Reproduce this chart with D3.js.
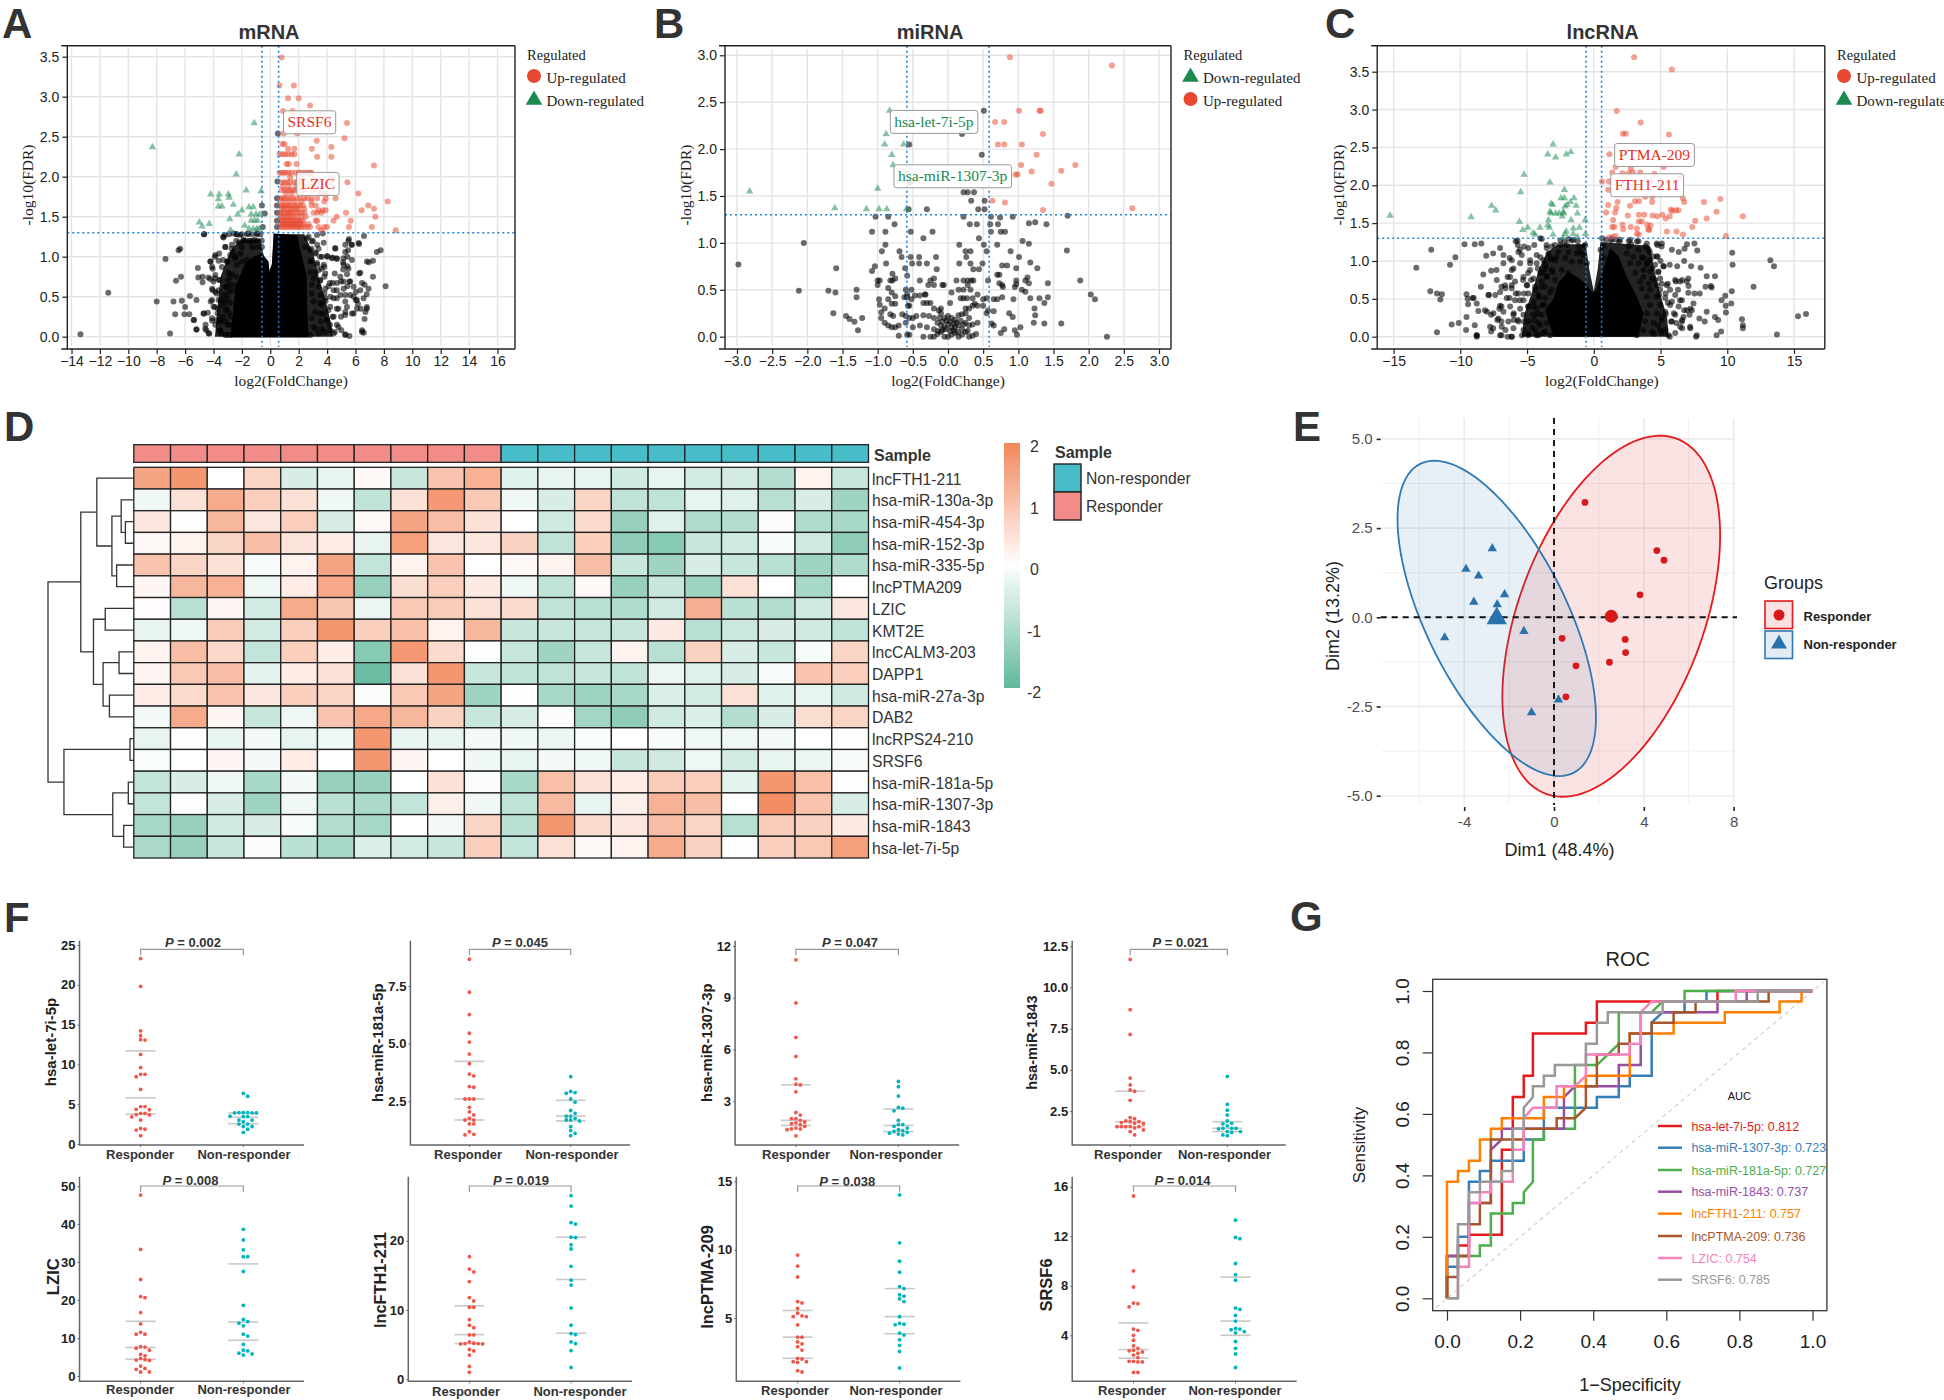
<!DOCTYPE html>
<html><head><meta charset="utf-8">
<script src="https://cdn.jsdelivr.net/npm/d3@7"></script>
<style>html,body{margin:0;background:#fff}svg{display:block}</style>
</head><body><svg id="c" width="1944" height="1400" font-family='"Liberation Sans",Arial,sans-serif'></svg>
<script>
/* ---------- A: mRNA volcano ---------- */
const upRowsA=[[3.49,[.8]],[3.14,[.65,1.66]],[2.98,[1.25,2]],[2.89,[2.8]],[2.82,[.9,1.57]],[2.67,[5.4]],[2.54,[.92,1.9]],[2.48,[5.22]],[2.45,[3.27]],[2.41,[.85,1]],[2.37,[4.3]],[2.35,[1.25,1.7,2.93]],[2.28,[.65,.85,1.05,1.25,1.5,1.7]],[2.25,[3.3,4.3]],[2.16,[1.15,1.3,1.85]],[2.14,[7.3]],[2.05,[.65,.8,.95,1.1,1.3,1.5,1.8,2,2.2,2.4,2.6,2.8,2.9]],[1.99,[1.4,2.1,3,4.3]],[1.93,[.8,1,1.2,1.4,1.7,1.9,2.1,2.8,3.5,4.2,5.43]],[1.88,[.9,1.3,1.8,2.4]],[1.83,[.8,1,1.2,1.4,1.6,1.8,2,2.3,3,3.5]],[1.79,[3.6,3.9,6.2,1.1,1.5]],[1.73,[.7,.85,1,1.2,1.4,1.6,1.85,2.1,2.4,2.6,2.9,3.3,3.9,4.6]],[1.69,[2.9,8.27,3.8,.9,1.3,1.7,2.2]],[1.64,[.7,.85,1,1.15,1.3,1.5,1.7,1.9,2.1,2.3,2.9,3.2,6.9]],[1.6,[.8,.95,1.2,1.4,1.6,1.8,2,2.4,7.3]],[1.58,[3.4,3.7,6.43,3.9]],[1.55,[.65,.8,1,1.15,1.3,1.45,1.6,1.8,2,2.2,2.4,3.05,3.3,3.6,5.33]],[1.5,[.75,.9,1.1,1.25,1.45,1.65,1.9,2.2,2.5,4.68,7.4]],[1.45,[.65,.8,.95,1.1,1.25,1.4,1.55,1.7,1.85,2,2.15,2.3,3.2,3.3,4.45,5.66]],[1.41,[.75,.9,1.05,1.2,1.35,1.5,1.65,1.8,1.95,2.1,2.35,2.7]],[1.37,[.7,.85,1,1.15,1.3,1.45,1.6,1.75,1.9,2.05,2.2,2.4,2.6,2.8,3.4,3.8,4,5.54,7.15]],[1.33,[8.83,3.6]]];
const downA=[[-1.13,2.67],[-8.3,2.37],[-2.2,2.28],[-2.4,2.03],[-1.7,1.83],[-.65,1.82],[-4.2,1.78],[-3.6,1.78],[-2.95,1.78],[-3.65,1.72],[-2.9,1.74],[-2.6,1.65],[-1.5,1.62],[-1.2,1.62],[-3.65,1.63],[-3.4,1.63],[-2,1.58],[-2.3,1.53],[-1.35,1.53],[-1,1.53],[-.75,1.53],[-2.85,1.47],[-1.35,1.45],[-1.1,1.45],[-.9,1.45],[-5,1.43],[-4.3,1.41],[-4.8,1.38],[-1.8,1.39],[-1.5,1.35],[-1.2,1.35],[-.95,1.35],[-.8,1.35],[-2.8,1.33]];
const nsA=[[.53,2.54],[.5,1.94],[-.59,1.64],[-.39,1.54],[-.53,1.37],[.47,1.73],[.47,1.64],[.47,1.55],[.47,1.45],[.47,1.37],[-13.37,.03],[-11.41,.55],[-8,.44],[-7.06,.04],[-6.82,.44],[-6.7,.28],[-6.23,.45],[-6,.37],[-6.05,.28],[-5.7,.28],[-5.66,.51],[-5.2,.46],[-5.37,.21],[-5.2,.09],[-4.68,.29],[-4.56,.15],[-4.5,.08],[-4.3,.04],[-4.2,.44],[-3.6,.08],[-3.47,.04],[-3.02,.02],[-7.38,.97],[-6.34,1.1],[-6.46,1.08],[-6.64,.7],[-6.29,.75],[-5.1,.86],[-5.07,.74],[-4.77,.75],[-4.77,.68],[-4.68,1.28],[-3.9,1],[-4.2,.94],[-4.06,.85],[-4.36,.74],[-3.9,.73],[-3.6,.71],[-4.06,.58],[-3.77,.54],[-3.32,1.25],[-3.17,1.12],[-2.73,1.1],[-3.32,.96],[-3.02,.94],[-3.6,1.04],[-3.41,.87],[-3.17,.62],[-3.47,.46],[-3.9,.37],[-3.32,.25],[-3.77,.21],[-2.58,1.29],[-2.13,1.27],[-1.54,1.29],[-.95,1.29],[-3.2,1.27],[-2.9,1.28],[-2.4,1.2],[-2.2,1.18],[-1.9,1.2],[-1.4,1.2],[-1.1,1.21],[-2.65,1.05],[-2.5,.98],[-2.95,.8],[-2.7,.78],[-3,.7],[-2.75,.65],[-2.95,.55],[-3.2,.43],[-3.05,.35],[-3,.15],[-3.7,.35],[-3.55,.18],[-4.1,.2],[-4.4,.3],[-2.9,.3],[3.7,1.29],[6.6,1.26],[5.54,1.22],[6.25,1.16],[5.72,1.15],[5.48,1.08],[5.28,1.06],[7.5,1.06],[7.77,1.08],[4.57,1.11],[4.03,1],[5.43,1],[4.39,.99],[4.68,.98],[7.23,.95],[6.94,.93],[5.13,.93],[5.43,.88],[5.13,.84],[7.23,.75],[6.26,.79],[8.12,.63],[5.57,.69],[4.54,.79],[3.8,.75],[3.8,.87],[4.39,.67],[4.98,.69],[5.43,.63],[6.46,.67],[6.64,.65],[6.02,.56],[6.79,.53],[4.1,.63],[4.68,.58],[5.28,.52],[5.87,.5],[4.68,.48],[4.24,.5],[3.8,.54],[5.28,.44],[6.02,.46],[6.17,.41],[6.37,.35],[6.79,.35],[6.7,.31],[6.64,.22],[4.68,.35],[5.28,.31],[5.87,.29],[4.09,.33],[4.39,.25],[4.98,.25],[6.46,.08],[6.58,.05],[5.28,.03],[5.57,.01],[4.54,.06],[3.8,.06],[3.2,.1],[3.94,.21],[3.5,.29],[2.7,1.25],[3,1.2],[3.3,1.15],[2.9,1.1],[3.2,1.05],[3.5,1],[2.9,.95],[3.3,.9],[3.6,.85],[3.2,.8],[3.5,.7],[3.9,.45],[3.6,.4],[4.2,.15],[4.8,.12],[5,.08]];
const nsA2=[[-4.65,1.28],[-3.29,1.24],[-2.39,1.28],[-2.35,1.28],[-2,1.28],[-1.64,1.28],[-1.29,1.28],[-.94,1.28],[-.7,1.28],[-1.88,1.21],[-1.76,1.2],[-1.5,1.2],[-1.2,1.2],[-.9,1.2],[-.6,1.2],[-2,1.12],[-1.29,1.12],[-.94,1.12],[-.59,1.12],[-3.17,1.12],[-2.7,1.15],[-2.11,1.04],[-2.46,1],[-2.82,1.02],[-3.87,1.02],[-3.05,.94],[-3.64,.95],[-4.23,.94],[-4.1,.875],[-2.35,.9],[-2,.94],[-1.64,.96],[-3.87,.77],[-3.57,.71],[-4.23,.72],[-2.86,.74],[-2.39,.75],[-4,.69],[-4.1,.6],[-3.05,.625],[-2.7,.58],[-3.64,.58],[-3.87,.56],[-2.35,.65],[-3.29,.52],[-4.1,.46],[-3.64,.46],[-3.05,.48],[-4,.375],[-3.4,.4],[-2.8,.42],[-3.71,.29],[-3.17,.33],[-2.82,.25],[-4.1,.23],[-3.52,.21],[-3.87,.15],[-3.17,.19],[-2.82,.15],[-4.34,.04],[-3.17,.02],[-2.82,.02],[-3.52,.08],[-2.46,.125],[-4.58,.1],[-4.7,.29],[-5.4,.21],[-5.2,.09],[3.29,1.27],[2.58,1.23],[2.93,1.19],[3.76,1.175],[5.5,1.2],[5.28,1.15],[5.75,1.15],[6.22,1.17],[4.58,1.1],[2.46,1.12],[2.82,1.08],[3.4,1.1],[3.17,1.04],[3.64,1],[3.99,1.01],[4.34,.98],[4.69,.97],[5.16,.98],[5.75,.96],[6.8,.94],[2.82,.94],[3.29,.92],[3.76,.9],[5.16,.9],[5.5,.85],[2.82,.81],[3.4,.83],[3.87,.79],[5.4,.78],[6.34,.8],[3.05,.73],[3.52,.71],[4.93,.75],[5.16,.69],[5.63,.69],[4.2,.67],[4.69,.67],[2.93,.65],[3.4,.625],[3.87,.6],[4.46,.58],[5.16,.6],[5.87,.625],[6.34,.58],[6.92,.6],[2.93,.54],[3.52,.52],[4.93,.52],[5.63,.52],[4.46,.48],[3.87,.48],[6.1,.46],[6.57,.48],[3.05,.44],[3.52,.42],[4.22,.375],[4.8,.35],[5.4,.37],[6.1,.35],[6.8,.37],[3.17,.31],[3.76,.29],[4.46,.25],[5.28,.27],[5.75,.29],[2.93,.23],[3.52,.19],[3.99,.21],[4.69,.15],[3.05,.125],[3.64,.1],[4.22,.08],[2.82,.02],[3.4,.04],[4.46,.04],[5.28,.02],[6.46,.06]];
const coreA=[[-2.82,-.01],[-2.58,.375],[-2.46,.625],[-2.11,.77],[-1.76,.92],[-1.17,1],[-.59,1.04],[-.12,.94],[-.05,.79],[.12,.92],[.23,1.29],[1.88,1.27],[2.23,1],[2.58,.75],[2.58,.42],[2.7,-.01]];
const haloA=[[-3.9,0],[-3.7,.4],[-3.5,.75],[-3.1,.95],[-2.7,1.1],[-2.2,1.2],[-.7,1.22],[-.45,1],[-.15,.8],[.12,.9],[.25,1.28],[2.4,1.28],[3,1.05],[3.4,.75],[3.9,.45],[4.3,.15],[4.4,0]];
const xTicksA=[-14,-12,-10,-8,-6,-4,-2,0,2,4,6,8,10,12,14,16], yTicksA=[0,.5,1,1.5,2,2.5,3,3.5];

/* ---------- B: miRNA volcano ---------- */
const upB=[[.88,2.98],[2.33,2.89],[1.01,2.41],[1.3,2.41],[1.32,2.41],[.67,2.29],[.8,2.29],[1.35,2.16],[.71,2.05],[.8,2.05],[1.05,2.05],[1.26,1.94],[1.04,1.83],[1.81,1.83],[1.19,1.76],[1.61,1.77],[.79,1.73],[.96,1.73],[.99,1.73],[1.47,1.63],[.63,1.45],[.81,1.43],[1.35,1.35],[2.62,1.37]];
const downB=[[-.83,2.41],[-.88,2.16],[-.9,2.05],[-.63,2.05],[-.8,1.94],[-.78,1.83],[-1,1.58],[-2.82,1.55],[-1.61,1.37],[-1.16,1.36],[-.98,1.36],[-.87,1.36],[-.59,1.36]];
const nsB=[[.51,2.41],[.2,2.16],[-.55,2.05],[.48,1.94],[.49,1.73],[-.54,1.64],[.22,1.54],[.28,1.54],[.37,1.54],[.33,1.45],[.52,1.45],[-.56,1.36],[-.3,1.36],[.43,1.36],[.52,1.36],[-1.03,1.28],[-.85,1.28],[.22,1.28],[.61,1.28],[.74,1.27],[.92,1.28],[1.7,1.29],[-.76,1.2],[.31,1.2],[.41,1.2],[.6,1.2],[.71,1.2],[1.15,1.21],[1.24,1.22],[1.4,1.2],[-1.08,1.12],[-.89,1.12],[-.53,1.12],[-.22,1.12],[.61,1.12],[.75,1.12],[.81,1.12],[-.35,1.05],[.44,1.05],[-2.05,1],[-.89,.98],[.16,.98],[.51,.98],[.7,.98],[1.06,1.02],[1.15,.99],[1.69,.92],[-.94,.91],[-.69,.91],[.25,.91],[.32,.91],[.55,.91],[.89,.91],[-.66,.85],[-.53,.85],[-.41,.85],[-.17,.85],[.26,.85],[1.01,.85],[-2.98,.77],[-.88,.78],[-.51,.78],[-.41,.78],[-.3,.78],[.16,.78],[.32,.78],[.49,.78],[.77,.76],[.84,.76],[1.17,.79],[-1.59,.73],[-1.04,.75],[-.61,.73],[-.16,.72],[-1.08,.7],[.36,.72],[.44,.72],[.97,.73],[1.27,.73],[-.79,.67],[.7,.66],[.73,.66],[-1,.6],[-.97,.6],[-.82,.6],[-.79,.6],[-.75,.62],[-.58,.65],[-.4,.6],[-.25,.6],[-.2,.62],[.12,.6],[.22,.6],[.28,.6],[.33,.6],[.36,.6],[.57,.6],[.97,.6],[1.13,.63],[1.1,.6],[1.88,.6],[-1.3,.5],[-1.6,.47],[-1.7,.49],[-2.12,.49],[-1.3,.42],[-1,.55],[-.85,.52],[-.8,.47],[-.6,.5],[-.58,.45],[-.52,.5],[-.32,.45],[-.28,.55],[-.2,.55],[-.08,.55],[-.06,.55],[.05,.47],[.15,.5],[.22,.5],[.28,.55],[.32,.5],[.42,.45],[.73,.57],[.77,.55],[.78,.53],[.95,.53],[.97,.56],[1.05,.5],[1.1,.48],[1.15,.57],[1.42,.57],[-.98,.4],[-.85,.4],[-.75,.43],[-.62,.42],[-.58,.42],[-.52,.4],[-.47,.44],[-.4,.44],[-.33,.45],[.18,.41],[.22,.41],[.27,.41],[.35,.41],[.5,.4],[.55,.41],[.65,.4],[.7,.4],[.77,.42],[.93,.4],[1.17,.41],[1.3,.41],[1.42,.42],[1.37,.36],[2.03,.45],[2.09,.4],[-.97,.34],[-.9,.3],[-.8,.35],[-.75,.35],[-.57,.33],[-.55,.33],[-.35,.36],[-.3,.36],[-.25,.36],[-.2,.3],[-.1,.3],[.03,.36],[.25,.3],[.3,.3],[.35,.33],[.38,.35],[.42,.33],[.5,.33],[.57,.28],[.65,.27],[1.23,.3],[-1.63,.25],[-1.45,.22],[-1.4,.19],[-1.33,.16],[-1.22,.2],[-.95,.26],[-.95,.2],[-.82,.24],[-.78,.22],[-.65,.24],[-.6,.22],[-.55,.2],[-.5,.2],[-.45,.22],[-.35,.23],[-.27,.22],[-.2,.2],[-.13,.28],[-.1,.25],[-.05,.2],[0,.22],[.05,.2],[.1,.18],[.15,.23],[.2,.24],[.25,.25],[.3,.2],[.55,.25],[.87,.25],[.92,.21],[1.24,.23],[-1.28,.07],[-.9,.15],[-.85,.12],[-.8,.1],[-.75,.1],[-.7,.12],[-.6,.15],[-.5,.1],[-.4,.12],[-.3,.1],[-.2,.08],[-.15,.15],[-.1,.12],[-.05,.1],[0,.13],[.05,.1],[.1,.1],[.15,.12],[.2,.08],[.25,.15],[.3,.12],[.35,.13],[.42,.15],[.62,.14],[.65,.12],[.8,.08],[.95,.07],[1.03,.1],[1.22,.15],[1.37,.14],[1.61,.14],[-.7,.01],[-.58,.02],[-.55,.02],[-.35,0],[-.25,0],[-.2,0],[-.15,.03],[-.1,.05],[-.05,0],[0,0],[.05,.02],[.1,.04],[.15,0],[.2,.02],[.25,.05],[.3,0],[.35,.01],[.4,.03],[.75,.04],[.98,.02],[2.26,0],[-.12,.2],[-.08,.16],[-.02,.17],[.03,.16],[.08,.14],[.12,.15],[.18,.17],[-.14,.06],[-.08,.07],[-.03,.08],[.03,.06],[.08,.07],[.14,.05],[.22,.13],[.28,.06]];
const xTicksB=[-3,-2.5,-2,-1.5,-1,-.5,0,.5,1,1.5,2,2.5,3], yTicksB=[0,.5,1,1.5,2,2.5,3];

/* ---------- C: lncRNA volcano ---------- */
const upC=[[3.02,3.69],[5.85,3.53],[1.72,2.98],[3.51,2.83],[2.18,2.68],[2.4,2.68],[5.63,2.67],[1.17,2.41],[1.63,2.24],[2.77,2.22],[5.23,2.24],[1.38,2.17],[2.15,2.16],[2.6,2.16],[2.92,2.17],[3.48,2.17],[4.55,2.15],[.62,2.05],[1.14,2.05],[4.3,2.05],[6.15,2.05],[6.46,2.09],[1.08,1.94],[2.46,1.94],[3.85,1.85],[4.37,1.85],[3.08,1.79],[3.38,1.79],[4.37,1.78],[1.78,1.78],[6.68,1.83],[6.77,1.78],[8.25,1.78],[9.48,1.82],[1.08,1.74],[2.71,1.73],[1.69,1.7],[5.78,1.68],[6.15,1.67],[6.34,1.67],[5.88,1.66],[9.2,1.65],[.92,1.64],[1.6,1.64],[3.38,1.61],[3.78,1.61],[2.55,1.6],[4.4,1.6],[4.74,1.59],[5.14,1.61],[5.69,1.59],[5.38,1.56],[11.17,1.59],[8.46,1.56],[7.6,1.53],[1.45,1.54],[3.38,1.52],[3.6,1.52],[2.15,1.48],[2.77,1.45],[1.38,1.45],[1.54,1.45],[4,1.48],[4.25,1.47],[7.38,1.45],[3.23,1.43],[2.2,1.42],[4.09,1.42],[4.15,1.41],[5.48,1.39],[6.2,1.39],[3.23,1.36],[3.38,1.35],[6.68,1.35],[9.9,1.33],[1.38,1.32],[1.63,1.33],[1.14,1.31]];
const downC=[[-15.26,1.6],[-9.2,1.58],[-7.66,1.73],[-7.35,1.67],[-3.05,2.54],[-3.45,2.41],[-2.86,2.37],[-2.06,2.41],[-1.72,2.44],[-5.23,2.14],[-3.29,2.04],[-5.48,1.91],[-2.2,1.94],[-2.46,1.83],[-2.2,1.83],[-1.48,1.83],[-3.2,1.76],[-3.08,1.74],[-2,1.74],[-1.75,1.78],[-1.32,1.73],[-3.29,1.65],[-3.2,1.63],[-2.86,1.63],[-2.6,1.63],[-2.3,1.65],[-2.15,1.72],[-2.25,1.63],[-1.23,1.63],[-2.37,1.59],[-3.4,1.54],[-5.57,1.52],[-1.7,1.54],[-.65,1.54],[-1.08,1.44],[-1.54,1.43],[-5.32,1.41],[-4.95,1.44],[-4.03,1.44],[-4.55,1.37],[-4.4,1.35],[-3.45,1.47],[-3.32,1.44],[-3.05,1.35],[-2.06,1.39],[-2.15,1.36],[-1.54,1.36],[-.62,1.36],[-2.3,1.31],[-1.23,1.32]];
const nsC=[[-13.3,.91],[-12.18,1.15],[-12.25,.6],[-11.75,.57],[-11.38,.56],[-11.5,.49],[-11.75,.06],[-10.77,.95],[-10.37,1.05],[-9.69,1.22],[-8.92,1.22],[-8.43,1.23],[-10.65,.16],[-10.12,.18],[-9.54,.56],[-9.45,.5],[-9.08,.51],[-9.42,.43],[-8.77,.44],[-9.54,.26],[-9.57,.09],[-8.92,.15],[-8.77,.02],[-8.77,0],[-8.65,.34],[-8.28,.82],[-8.06,1.07],[-7.69,.87],[-7.54,1.1],[-7.29,.88],[-7.02,1.17],[-6.77,1.08],[-6.77,.97],[-8.46,.66],[-7.85,.55],[-7.38,.55],[-6.92,.66],[-6.31,1.04],[-6.15,1.01],[-6.46,.79],[-6.15,.88],[-6.62,.64],[-6.15,.68],[-5.85,1.26],[-5.69,1.21],[-5.54,1.15],[-5.23,1.19],[-6.92,.4],[-7.08,.37],[-8,.33],[-7.69,.29],[-7.23,.22],[-6.92,.2],[-7.54,.11],[-7.69,.07],[-6.92,.02],[-6.46,0],[-6.15,0],[-6.62,.09],[-6,.31],[-6,.22],[-5.69,.22],[-5.54,.48],[-5.23,.57],[-4.92,.4],[-6.31,.51],[-5.85,.57],[-5.38,.02],[-4.92,.04],[-5.23,.2],[-4.46,.22],[-4.92,.84],[-4.77,.97],[-4.46,1.21],[-4,1.3],[-3.54,1.21],[-2.92,1.21],[-5.3,.75],[-5,.68],[-4.7,.75],[-4.4,.62],[-4.2,.9],[-4,1.05],[-3.8,.85],[-3.6,.95],[-3.4,1.1],[-3.2,1.02],[-4.5,.4],[-4.2,.3],[-4.1,.52],[-3.9,.66],[-3.7,.42],[-3.5,.8],[-3.3,.58],[-4.6,.12],[-4.3,.02],[-4,.15],[-3.8,.05],[-3.1,.85],[-2.8,1.05],[-2.5,1.27],[-2.2,1.25],[-1.9,1.29],[-1.2,1.26],[-1,1.12],[-.7,1.2],[-1.65,1.27],[15.9,.3],[15.3,.27],[13.72,.03],[13.23,1.01],[13.5,.93],[11.97,.66],[11.1,.23],[11.17,.15],[11.17,.11],[10.37,1.11],[10.4,.95],[10.34,.6],[9.85,.54],[9.57,.48],[10.3,.44],[9.88,.41],[9.9,.32],[9.08,.26],[9.32,.22],[9.54,.07],[9.2,.02],[9.08,.8],[8.46,.8],[8.77,.67],[8.37,.66],[8.83,.65],[7.94,.57],[7.54,.57],[8.46,.33],[7.91,.24],[8.31,.2],[7.66,0],[7.54,1.23],[7.75,1.14],[6.98,1.22],[6.8,1.16],[6.37,1.12],[6.77,1],[6.25,.93],[7.29,.93],[8,.91],[5.69,.95],[5.85,1.15],[5.08,1.19],[4.77,1.21],[6.62,.75],[7.08,.77],[6.15,.73],[6.31,.62],[7.1,.67],[7.08,.58],[5.54,.7],[5.23,.93],[5.38,.57],[5.85,.46],[6.46,.48],[7.23,.37],[6.77,.35],[6,.31],[7.17,.29],[6.62,.22],[6.18,.18],[6.62,.11],[7.23,.11],[5.69,0],[5.38,.09],[5.08,.26],[4.77,1.06],[4.46,1.06],[3.85,1.19],[3.23,1.26],[2.62,1.26],[1.69,1.28],[.92,1.28],[.62,1.3],[4.2,1.12],[3.6,1.05],[4.4,.9],[4.8,.85],[4,.98],[5,1],[4.6,.75],[5.1,.7],[4.9,.55],[5.4,.3],[5.1,.05],[4.8,.15],[4.5,.04],[5.8,.2],[6.1,.05],[5.55,.45],[2.8,1.22],[1.3,1.27],[1.9,1.25],[.7,1.2],[.5,1.15],[.7,1.05]];
const nsC2=[[-5.72,1.27],[-3.9,1.29],[-5.65,1.12],[-4.9,1.17],[-5.4,1.08],[-4.28,1.08],[-3.53,1.17],[-3.15,1.19],[-2.52,1.21],[-2.03,1.21],[-1.52,1.28],[-1.15,1.19],[-.65,1.21],[-2.65,1.12],[-1.9,1.12],[-1.27,1.1],[-.77,1.08],[-3.77,1.01],[-3.27,1.04],[-2.9,1.01],[-2.15,1.04],[-1.65,.99],[-1.02,.99],[-4.77,1.01],[-4.28,.97],[-5.52,.97],[-6.02,.9],[-3.65,.9],[-3.15,.88],[-2.4,.88],[-1.9,.84],[-.52,.97],[-4.77,.88],[-4,.84],[-3.52,.79],[-2.9,.75],[-4.52,.77],[-5.27,.79],[-6.27,.79],[-5.9,.73],[-6.65,.68],[-3.9,.73],[-5.02,.68],[-4.4,.66],[-3.65,.66],[-3.15,.62],[-6.15,.64],[-7.27,.75],[-7.02,.59],[-5.65,.57],[-4.9,.57],[-4.15,.55],[-3.65,.51],[-7.9,.55],[-6.52,.51],[-5.9,.48],[-5.27,.48],[-4.52,.46],[-9,.51],[-7.02,.41],[-6.27,.4],[-5.52,.37],[-4.9,.4],[-4.27,.37],[-3.9,.42],[-8.15,.35],[-7.52,.31],[-6.77,.33],[-6.02,.29],[-5.27,.29],[-4.52,.29],[-3.9,.29],[-7.15,.24],[-6.4,.2],[-5.65,.2],[-4.9,.2],[-4.15,.18],[-3.52,.18],[-7.77,.13],[-6.9,.13],[-6.02,.11],[-5.27,.09],[-4.4,.09],[-3.65,.07],[-8.77,.02],[-7.02,.02],[-6.15,0],[-4.9,.02],[-4.15,.02],[-3.27,.02],[1.35,1.29],[1.97,1.28],[2.72,1.28],[3.35,1.26],[3.97,1.23],[4.72,1.23],[5.1,1.23],[2.6,1.19],[3.35,1.15],[4.1,1.15],[4.72,1.06],[2.47,1.1],[2.97,1.06],[3.72,1.04],[4.22,1.01],[2.72,.97],[3.35,.97],[3.97,.95],[4.6,.95],[3.72,.88],[4.22,.86],[4.85,.86],[5.22,.93],[3.1,.84],[3.72,.79],[4.35,.77],[4.97,.77],[3.47,.73],[4.1,.7],[4.72,.68],[5.47,.68],[6.1,.75],[3.6,.64],[4.22,.62],[4.97,.62],[5.72,.62],[6.47,.73],[6.97,.73],[3.97,.53],[4.72,.53],[5.35,.51],[6.1,.55],[6.6,.48],[4.22,.42],[4.97,.42],[5.72,.42],[6.35,.4],[6.97,.35],[7.47,.44],[3.97,.31],[4.72,.31],[5.35,.33],[6.1,.29],[6.72,.26],[7.35,.35],[3.85,.2],[4.47,.18],[5.1,.22],[5.85,.2],[6.6,.2],[3.72,.09],[4.35,.07],[4.97,.09],[5.6,.02],[6.47,.13],[7.22,.13],[7.72,.02],[3.22,.02]];
const coreC=[[-3.02,0],[-3.65,.35],[-3.02,.5],[-2.65,.72],[-1.9,.85],[-1.15,.78],[-.52,.68],[-.15,.59],[.1,.59],[.35,.7],[.85,.97],[1.22,1.17],[1.85,1.06],[2.47,.79],[3.22,.53],[3.72,.31],[3.35,0]];
const haloC=[[-5.4,0],[-5.2,.3],[-4.6,.6],[-4.1,.9],[-3.5,1.12],[-2.6,1.22],[-.6,1.22],[-.35,.9],[0,.6],[.3,.9],[.5,1.25],[4.2,1.2],[4.5,.9],[5,.55],[5.5,.25],[5.6,0]];
const xTicksC=[-15,-10,-5,0,5,10,15], yTicksC=[0,.5,1,1.5,2,2.5,3,3.5];

/* ---------- D: heatmap ---------- */
const heatRows=["lncFTH1-211","hsa-miR-130a-3p","hsa-miR-454-3p","hsa-miR-152-3p","hsa-miR-335-5p","lncPTMA209","LZIC","KMT2E","lncCALM3-203","DAPP1","hsa-miR-27a-3p","DAB2","lncRPS24-210","SRSF6","hsa-miR-181a-5p","hsa-miR-1307-3p","hsa-miR-1843","hsa-let-7i-5p"];
const heatSamples=["Responder","Responder","Responder","Responder","Responder","Responder","Responder","Responder","Responder","Responder","Non-responder","Non-responder","Non-responder","Non-responder","Non-responder","Non-responder","Non-responder","Non-responder","Non-responder","Non-responder"];
const heatValues=[
[1.5,1.75,0,.7,-.5,-.3,.1,-.7,1,1.3,-.4,-.3,-.3,-.6,-.3,-.55,-.55,-.95,.2,-.7],
[-.2,.5,1.4,.8,.5,-.2,-.8,.5,1.7,.9,-.2,-.5,.7,-.8,-.8,-.3,-.4,-.9,-.5,-1.2],
[.4,.02,1.2,.4,.8,-.5,.1,1.5,1.1,.5,0,-.6,.6,-1.3,-.4,-1,-.95,-.05,-1,-1.1],
[.1,.2,.7,1.1,.45,.3,-.3,1.6,.4,.4,.75,-.8,.8,-1.4,-1.5,-.7,-.6,-.1,-.6,-1.4],
[1,.7,.5,-.1,.2,1.5,-.75,.2,1,0,.1,.2,1.1,-.7,-1.2,-.5,-.7,-.9,-1.2,-1],
[.15,1.2,1.3,-.2,.3,1.45,-1.3,.55,.8,.35,-.2,-.8,.1,-1.3,-.7,-1.2,.5,0,-1.1,0],
[.05,-.85,.15,-.55,1.4,.95,-.25,.9,.85,.5,.6,-.8,-.9,-1,-.6,1.35,-.85,-.95,-.6,.4],
[-.3,-.2,.85,-.55,.8,1.75,.8,1.05,.2,1.2,-.7,-.7,-.7,-.7,.35,-.9,-.65,-.5,-.6,-.8],
[.2,1.1,.65,-.75,.8,.3,-1.5,1.7,.6,-.03,-.7,-1.2,-.7,.2,-.9,.75,-.5,-.7,-.1,.7],
[.15,.9,1.1,-.35,.3,.5,-1.85,.5,1.75,-.7,-.8,-.8,-.7,-.8,-.25,-.4,-.5,-.1,1,.8],
[.3,.6,1,.4,.8,.7,-.05,.9,1.5,-1.2,.03,-1.1,-1.2,-1.1,-.45,-.55,.5,-.4,-.3,-.6],
[-.15,1.4,.15,-.7,-.2,1,1.45,1.2,.75,-.7,-.5,-.05,-1.15,-1.4,-.6,-.45,-.95,-.5,.55,.7],
[-.3,.03,-.3,-.15,-.3,-.2,1.75,-.3,-.3,-.15,-.2,-.25,-.07,0,-.1,-.2,-.2,-.15,0,-.03],
[-.07,0,.15,-.15,.3,0,1.75,.15,0,-.2,-.3,-.15,-.2,-.7,-.6,-.2,-.55,-.3,-.25,-.1],
[-.75,-.5,-.2,-1.1,-.15,-1.3,-1.3,0,.5,-.05,-1.1,1.05,.5,.3,.85,.8,-.35,1.75,1.05,-.03],
[-.75,-.02,-.5,-1.2,-.2,-.85,-1.05,-.75,.25,-.2,-.8,1.15,-.3,.25,1.3,1.1,0,1.9,1,-.5],
[-1.1,-1.3,-.6,-.5,-.1,-.95,-1.1,0,-.15,.7,-.85,1.75,.6,.4,1.1,.7,-.9,.85,.75,.35],
[-1.05,-1.3,-.7,-.05,-.85,-1.1,-.45,-.55,-.7,.8,-.75,.5,.1,.2,1.4,.75,-.03,.8,.9,1.6]];
const dendrogram=[1,[.618,[.431,0,[.255,[.147,1,[.098,2,3]],[.2,4,5]]],[.47,[.333,6,7],[.358,[.172,8,9],[.284,10,11]]]],[.814,[.044,12,13],[.245,[.064,14,15],[.118,16,17]]]];

/* ---------- E: PCA ---------- */
const pcaResponder=[[1.38,3.22],[4.58,1.87],[4.9,1.6],[3.83,.63],[3.17,-.62],[.36,-.59],[3.19,-.99],[2.47,-1.26],[.98,-1.36],[.53,-2.23]];
const pcaNon=[[-2.75,1.93],[-3.92,1.35],[-3.36,1.16],[-2.2,.64],[-3.57,.43],[-2.53,.36],[-1.34,-.39],[-4.87,-.57],[.2,-2.31],[-1,-2.67]];
const pcaCentres=[[2.55,.03],[-2.55,-.03]];
const pcaEllipses=[{cx:2.55,cy:.03,a:4.85,b:5.06,r:.447},{cx:-2.55,cy:-.03,a:4.42,b:4.42,r:-.629}];

/* ---------- F: swarm panels ---------- */
const let7R=[23.3,19.8,14.2,13.6,13.1,13.05,11.25,9.6,8.75,8.75,8.45,6.85,4.7,4.7,4.35,4.3,3.85,3.85,3.65,3.7,3.4,3,1.95,1.75,1.85,1.05];
const let7N=[6.35,6,3.95,3.95,3.95,3.9,3.9,3.9,3.5,3.45,3.45,3,3,2.8,2.5,2.5,2.2,2.2,1.85,1.45];
const mir181R=[8.66,7.23,6.26,5.45,5.07,4.55,4.13,3.68,3.6,3.14,3.11,2.6,2.6,2.6,2.24,2.04,1.91,1.76,1.69,1.69,1.52,1.52,1.18,1.07,1.04];
const mir181N=[3.57,2.93,2.88,2.85,2.6,2.46,2.1,1.98,1.86,1.86,1.76,1.69,1.69,1.65,1.4,1.23,1.11,1.01];
const lzicR=[47.6,33.3,25.4,20.9,20.6,16.7,13.7,11.5,11,11,7.7,7.6,7.3,6.8,5.7,5.3,4.6,4.3,4.2,4.1,2.6,2,1.75,1.05,1.05];
const lzicN=[38.6,35.8,33.2,31.4,31.4,27.5,18.6,14.9,14.3,13.9,13.2,11,10.5,8.3,6.8,6.6,6,5.5,5.8];
const fth1R=[17.7,15.9,15.5,14.1,11.8,11.3,10.4,10.4,8.6,7.8,7.45,6.4,6.4,5.4,5.2,5.15,5.1,5.1,5.15,4.3,4.1,3.5,1.85,1];
const fth1N=[26.5,25,22.6,22.4,20.5,20.45,19.4,18.8,16.3,14.3,13.6,10.3,7.8,6.6,6.45,5.4,5.15,4.15,1.7];
const mir1307R=[11.2,8.7,6.7,5.6,4.3,4,3.95,3.55,2.35,2.2,2,2,1.9,1.8,1.75,1.7,1.65,1.55,1.45,1.4,1.4,1.35,1];
const mir1307N=[4.15,3.85,3.3,2.65,2.6,2.45,1.9,1.65,1.65,1.55,1.45,1.35,1.3,1.25,1.2,1.15,1.1,1.05];
const mir1843R=[11.7,8.65,7.15,4.5,4.08,3.78,3.7,3.15,2.1,2.03,1.9,1.85,1.85,1.8,1.75,1.72,1.55,1.55,1.55,1.55,1.55,1.47,1.35,1.25,1.05];
const mir1843N=[4.6,2.9,2.55,2.25,1.9,1.75,1.72,1.6,1.45,1.45,1.45,1.42,1.25,1.25,1.2,1.05,1];
const ptmaR=[9.6,8.8,8,6.2,6.1,5.7,5.35,5.15,5.1,5.1,4.5,3.6,3.6,3.25,3.1,2.9,2.65,2.05,2,1.8,1.75,1.8,1.15,1.05];
const ptmaN=[14,10.5,9.15,8.35,7.3,7.15,6.7,6.6,6.4,6.2,5.1,4.6,4.55,4.5,3.9,3.75,3.4,3,2.55,1.35];
const srsf6R=[15.25,9.2,7.9,6.6,6.55,6.3,4.5,4.4,4,3.6,3.15,2.95,2.8,2.75,2.65,2.55,2.4,2.2,1.9,1.9,1.85,1.85,1,1];
const srsf6N=[13.3,11.9,11.8,9.8,8.9,8.45,6.2,6.1,5.6,5.15,4.55,4.5,4.45,4.3,4.2,3.5,2.95,2.5,1.4];

/* ---------- G: ROC ---------- */
const rocNames=["hsa-let-7i-5p: 0.812","hsa-miR-1307-3p: 0.723","hsa-miR-181a-5p: 0.727","hsa-miR-1843: 0.737","lncFTH1-211: 0.757","lncPTMA-209: 0.736","LZIC: 0.754","SRSF6: 0.785"];
const rocLet7=[[0,0],[0,.138],[.03,.138],[.03,.172],[.06,.172],[.06,.207],[.15,.207],[.15,.483],[.18,.483],[.18,.655],[.21,.655],[.21,.724],[.235,.724],[.235,.862],[.38,.862],[.38,.897],[.41,.897],[.41,.966],[.74,.966],[.74,1],[1,1]];
const roc1307=[[0,0],[0,.103],[.03,.103],[.03,.2],[.06,.2],[.06,.379],[.09,.379],[.09,.414],[.12,.414],[.12,.448],[.21,.448],[.21,.517],[.265,.517],[.265,.62],[.41,.62],[.41,.655],[.47,.655],[.47,.69],[.5,.69],[.5,.724],[.56,.724],[.56,.897],[.59,.931],[.65,.931],[.65,.966],[.71,.966],[.71,1],[1,1]];
const roc181=[[0,0],[0,.138],[.09,.138],[.09,.172],[.12,.172],[.12,.276],[.18,.276],[.18,.31],[.21,.31],[.21,.345],[.235,.379],[.235,.517],[.265,.517],[.265,.552],[.35,.552],[.35,.759],[.41,.759],[.47,.828],[.47,.931],[.56,.931],[.59,.966],[.65,.966],[.65,1],[1,1]];
const roc1843=[[0,0],[0,.138],[.06,.138],[.06,.31],[.12,.31],[.12,.483],[.15,.517],[.15,.552],[.32,.552],[.32,.655],[.35,.69],[.47,.69],[.47,.759],[.53,.759],[.53,.931],[.74,.931],[.74,.966],[.82,.966],[.82,1],[1,1]];
const rocFth1=[[0,0],[0,.379],[.03,.379],[.03,.414],[.06,.414],[.06,.448],[.09,.448],[.09,.517],[.12,.517],[.12,.552],[.15,.552],[.15,.586],[.265,.586],[.265,.655],[.32,.655],[.32,.69],[.38,.69],[.38,.724],[.5,.724],[.5,.862],[.62,.862],[.62,.897],[.76,.897],[.76,.931],[.91,.931],[.91,.966],[.97,.966],[.97,1],[1,1]];
const rocPtma=[[0,0],[0,.069],[.03,.069],[.03,.138],[.06,.138],[.06,.241],[.09,.241],[.09,.31],[.12,.31],[.12,.517],[.21,.517],[.21,.552],[.3,.552],[.3,.586],[.35,.586],[.38,.62],[.38,.69],[.41,.69],[.41,.793],[.47,.793],[.47,.828],[.5,.828],[.5,.862],[.56,.862],[.56,.897],[.62,.897],[.62,.931],[.68,.931],[.68,.966],[.88,.966],[.88,1],[1,1]];
const rocLzic=[[0,0],[.03,0],[.03,.103],[.06,.103],[.06,.31],[.09,.31],[.09,.345],[.12,.345],[.12,.379],[.18,.379],[.18,.483],[.21,.483],[.21,.586],[.235,.62],[.3,.62],[.3,.69],[.35,.69],[.38,.724],[.38,.793],[.5,.793],[.5,.828],[.53,.828],[.53,.931],[.56,.966],[.79,.966],[.79,1],[1,1]];
const rocSrsf6=[[0,0],[.03,0],[.03,.241],[.06,.241],[.06,.345],[.09,.345],[.09,.379],[.15,.379],[.15,.414],[.18,.414],[.18,.552],[.21,.552],[.21,.62],[.235,.655],[.235,.69],[.265,.69],[.265,.724],[.295,.724],[.295,.759],[.38,.759],[.38,.828],[.41,.828],[.41,.897],[.44,.897],[.44,.931],[.59,.931],[.59,.966],[.85,.966],[.85,1],[1,1]];
const rocCurves=[rocLet7,roc1307,roc181,roc1843,rocFth1,rocPtma,rocLzic,rocSrsf6];
const rocColors=["#e41a1c","#377eb8","#4daf4a","#984ea3","#ff7f00","#a65628","#f781bf","#999999"];

/* ============ drawing ============ */
const svg=d3.select("#c");
const SANS='"Liberation Sans",Arial,sans-serif', SERIF='"Liberation Serif","Times New Roman",serif';
const RED="#e8482f", GREEN="#1a8a50";
[["A",2,38],["B",654,38],["C",1325,38],["D",4,441],["E",1293,441],["F",4,932],["G",1290,931]].forEach(([t,x,y])=>
  svg.append("text").attr("x",x).attr("y",y).attr("font-size",42).attr("font-weight","bold").attr("fill","#333").text(t));

function volcano(o){
  const g=svg.append("g");
  const x=d3.scaleLinear().domain(o.xd).range(o.xr), y=d3.scaleLinear().domain(o.yd).range(o.yr);
  const gl=g.append("g").attr("stroke","#e4e4e4").attr("stroke-width",1.4);
  o.xt.forEach(v=>gl.append("line").attr("x1",x(v)).attr("x2",x(v)).attr("y1",o.top+3).attr("y2",o.bot-3));
  o.yt.forEach(v=>gl.append("line").attr("x1",o.left).attr("x2",o.right).attr("y1",y(v)).attr("y2",y(v)));
  const poly=d3.line().x(d=>x(d[0])).y(d=>y(d[1])).curve(d3.curveLinearClosed);
  if(o.halo) g.append("path").attr("d",poly(o.halo)).attr("fill","#000").attr("opacity",.86);
  if(o.core) g.append("path").attr("d",poly(o.core)).attr("fill","#000");
  g.append("g").selectAll("circle").data(o.ns).join("circle").attr("cx",d=>x(d[0])).attr("cy",d=>y(d[1])).attr("r",3).attr("fill","#000").attr("opacity",.58);
  g.append("g").selectAll("circle").data(o.up).join("circle").attr("cx",d=>x(d[0])).attr("cy",d=>y(d[1])).attr("r",3).attr("fill",RED).attr("opacity",.52);
  const tri=d3.symbol().type(d3.symbolTriangle).size(24)();
  g.append("g").selectAll("path").data(o.down).join("path").attr("d",tri).attr("transform",d=>`translate(${x(d[0])},${y(d[1])})`).attr("fill",GREEN).attr("opacity",.52);
  const bl=g.append("g").attr("stroke","#1f82dc").attr("stroke-width",1.6).attr("stroke-dasharray","2 3");
  [-.585,.585].forEach(v=>bl.append("line").attr("x1",x(v)).attr("x2",x(v)).attr("y1",o.top).attr("y2",o.bot-2));
  bl.append("line").attr("x1",o.left).attr("x2",o.right).attr("y1",y(1.3)).attr("y2",y(1.3));
  o.labels.forEach(l=>{
    const t=g.append("text").attr("x",x(l.x)).attr("y",y(l.y)+5).attr("text-anchor","middle").attr("font-family",SERIF).attr("font-size",15.5).attr("fill",l.c).text(l.t);
    const b=t.node().getBBox();
    g.insert("rect","text:last-child").attr("x",b.x-4).attr("y",y(l.y)-11.5).attr("width",b.width+8).attr("height",23).attr("rx",2.5).attr("fill","#fff").attr("fill-opacity",.85).attr("stroke","#999").attr("stroke-width",1);
  });
  const ax=g.append("g");
  const ya=d3.axisLeft(y).tickValues(o.yt).tickSize(5).tickPadding(3).tickFormat(d3.format(".1f"));
  const xa=d3.axisBottom(x).tickValues(o.xt).tickSize(5).tickPadding(2).tickFormat(d3.format(o.xf));
  const ga=ax.append("g").attr("transform",`translate(${o.left},0)`).call(ya);
  const gb=ax.append("g").attr("transform",`translate(0,${o.bot})`).call(xa);
  [ga,gb].forEach(s=>{s.select(".domain").remove();s.selectAll("text").attr("font-size",14).attr("font-family",SANS).attr("fill","#222");s.selectAll("line").attr("stroke","#222").attr("stroke-width",1.2);});
  const fr=ax.append("g").attr("stroke","#222");
  fr.append("line").attr("x1",o.left-6).attr("x2",o.right).attr("y1",o.top).attr("y2",o.top).attr("stroke-width",1.4);
  fr.append("line").attr("x1",o.left-6).attr("x2",o.right).attr("y1",o.bot).attr("y2",o.bot).attr("stroke-width",1.6);
  fr.append("line").attr("x1",o.left).attr("x2",o.left).attr("y1",o.top).attr("y2",o.bot).attr("stroke-width",1.4);
  fr.append("line").attr("x1",o.right).attr("x2",o.right).attr("y1",o.bot).attr("y2",o.top).attr("stroke-width",1.4);
  const T=(s,xx,yy,fs,a)=>g.append("text").attr("x",xx).attr("y",yy).attr("font-family",SERIF).attr("font-size",fs).attr("text-anchor",a||"start").attr("fill","#222").text(s);
  T("log2(FoldChange)",o.xlab,386,15.5,"middle");
  g.append("text").attr("transform",`translate(${o.ylab},185) rotate(-90)`).attr("text-anchor","middle").attr("font-family",SERIF).attr("font-size",15.5).attr("fill","#222").text("-log10(FDR)");
  g.append("text").attr("x",o.title[1]).attr("y",38.5).attr("text-anchor","middle").attr("font-size",20).attr("font-weight","bold").attr("fill","#333").text(o.title[0]);
  T("Regulated",o.lg,60,14.5);
  o.legend.forEach((k,i)=>{
    const yy=76+i*23, mx=o.lg+7;
    if(k==="Up-regulated") g.append("circle").attr("cx",mx).attr("cy",yy).attr("r",7).attr("fill",RED);
    else g.append("path").attr("d",d3.symbol().type(d3.symbolTriangle).size(120)()).attr("transform",`translate(${mx},${yy+1})`).attr("fill",GREEN);
    T(k,o.lg+19.5,yy+7,15);
  });
}
const rowsFlat=r=>r.flatMap(([yy,xs])=>xs.map(v=>[v,yy]));
volcano({xd:[-14,16],xr:[71.5,497.5],yd:[0,3.5],yr:[336.7,56.7],left:67.3,right:515,top:45.7,bot:349,xt:xTicksA,yt:yTicksA,xf:"d",
  ns:nsA.concat(nsA2),up:rowsFlat(upRowsA),down:downA,core:coreA,halo:haloA,xlab:291,ylab:33,title:["mRNA",269],lg:527,legend:["Up-regulated","Down-regulated"],
  labels:[{t:"SRSF6",x:2.76,y:2.68,c:"#e8301c"},{t:"LZIC",x:3.35,y:1.91,c:"#e8301c"}]});
volcano({xd:[-3,3],xr:[737,1159],yd:[0,3],yr:[336.7,55.3],left:725,right:1171,top:45.7,bot:349,xt:xTicksB,yt:yTicksB,xf:".1f",
  ns:nsB,up:upB,down:downB,xlab:948,ylab:691,title:["miRNA",930],lg:1183.5,legend:["Down-regulated","Up-regulated"],
  labels:[{t:"hsa-let-7i-5p",x:-.2,y:2.29,c:"#178a50"},{t:"hsa-miR-1307-3p",x:.066,y:1.71,c:"#178a50"}]});
volcano({xd:[-15,15],xr:[1393.6,1794],yd:[0,3.5],yr:[336.7,71.7],left:1377.2,right:1824.8,top:45.7,bot:349,xt:xTicksC,yt:yTicksC,xf:"d",
  ns:nsC.concat(nsC2),up:upC,down:downC,core:coreC,halo:haloC,xlab:1601.9,ylab:1344,title:["lncRNA",1602.7],lg:1837,legend:["Up-regulated","Down-regulated"],
  labels:[{t:"PTMA-209",x:4.54,y:2.4,c:"#e8301c"},{t:"FTH1-211",x:4,y:2,c:"#e8301c"}]});

/* heatmap */
(function(){
  const g=svg.append("g");
  const x=d3.scaleBand().domain(d3.range(20)).range([133.8,868.5]);
  const y=d3.scaleBand().domain(d3.range(18)).range([467.3,858]);
  const col=d3.scaleLinear().domain([-2,0,2]).range(["#5fb89b","#ffffff","#f2875b"]);
  const ann={"Responder":"#f28c88","Non-responder":"#47bdca"};
  g.selectAll(".a").data(heatSamples).join("rect").attr("x",(d,i)=>x(i)).attr("y",444.7).attr("width",x.bandwidth()).attr("height",17.6).attr("fill",d=>ann[d]).attr("stroke","#222").attr("stroke-width",1.3);
  heatValues.forEach((row,r)=>g.append("g").selectAll("rect").data(row).join("rect").attr("x",(d,c)=>x(c)).attr("y",y(r)).attr("width",x.bandwidth()).attr("height",y.bandwidth()).attr("fill",d=>col(d)).attr("stroke","#222").attr("stroke-width",1.3));
  g.selectAll(".r").data(heatRows).join("text").attr("x",872).attr("y",(d,i)=>y(i)+y.bandwidth()/2+6.5).attr("font-size",15.7).attr("fill","#333").text(d=>d);
  g.append("text").attr("x",874).attr("y",461).attr("font-size",16).attr("font-weight","bold").attr("fill","#333").text("Sample");
  const h=d3.scaleLinear().domain([0,1]).range([133.8,48]);
  const rowC=i=>y(i)+y.bandwidth()/2;
  const dp=d3.path();
  (function walk(n){
    if(typeof n==="number") return {y:rowC(n),x:h(0)};
    const a=walk(n[1]),b=walk(n[2]),X=h(n[0]);
    dp.moveTo(a.x,a.y);dp.lineTo(X,a.y);dp.lineTo(X,b.y);dp.lineTo(b.x,b.y);
    return {y:(a.y+b.y)/2,x:X};
  })(dendrogram);
  g.append("path").attr("d",dp.toString()).attr("fill","none").attr("stroke","#333").attr("stroke-width",1.3);
  const defs=svg.append("defs"), lg=defs.append("linearGradient").attr("id","cb").attr("x1",0).attr("x2",0).attr("y1",1).attr("y2",0);
  [-2,-1,0,1,2].forEach(v=>lg.append("stop").attr("offset",(v+2)/4).attr("stop-color",col(v)));
  g.append("rect").attr("x",1004).attr("y",443).attr("width",16).attr("height",245).attr("fill","url(#cb)");
  const cb=d3.scaleLinear().domain([-2,2]).range([692,446]);
  [2,1,0,-1,-2].forEach(v=>g.append("text").attr("x",v<0?1027:1030).attr("y",cb(v)+6).attr("font-size",16).attr("fill","#333").text(v));
  g.append("text").attr("x",1055).attr("y",458).attr("font-size",16).attr("font-weight","bold").attr("fill","#333").text("Sample");
  [["Non-responder",464],["Responder",492]].forEach(([k,yy])=>{
    g.append("rect").attr("x",1054).attr("y",yy).attr("width",27).attr("height",28).attr("fill",ann[k]).attr("stroke","#222").attr("stroke-width",1.4);
    g.append("text").attr("x",1086).attr("y",yy+20).attr("font-size",15.7).attr("fill","#333").text(k);
  });
})();

/* PCA */
(function(){
  const g=svg.append("g");
  const x=d3.scaleLinear().domain([0,4]).range([1554,1643.8]), y=d3.scaleLinear().domain([0,2.5]).range([617.3,528.1]);
  const L=1381.7,R=1735,T=418,B=813;
  [-6,-2,2,6].forEach(v=>g.append("line").attr("x1",x(v)).attr("x2",x(v)).attr("y1",T).attr("y2",B-9).attr("stroke","#f0f0f0").attr("stroke-width",1));
  [-3.75,-1.25,1.25,3.75].forEach(v=>g.append("line").attr("x1",L).attr("x2",R).attr("y1",y(v)).attr("y2",y(v)).attr("stroke","#f0f0f0").attr("stroke-width",1));
  [-4,0,4,8].forEach(v=>g.append("line").attr("x1",x(v)).attr("x2",x(v)).attr("y1",T).attr("y2",B-9).attr("stroke","#ebebeb").attr("stroke-width",1.6));
  [-5,-2.5,0,2.5,5].forEach(v=>g.append("line").attr("x1",L).attr("x2",R).attr("y1",y(v)).attr("y2",y(v)).attr("stroke","#ebebeb").attr("stroke-width",1.6));
  const line=d3.line().x(d=>x(d[0])).y(d=>y(d[1])).curve(d3.curveLinearClosed);
  const outline=e=>d3.range(0,360,3).map(deg=>{const t=deg*Math.PI/180;return [e.cx+e.a*Math.cos(t),e.cy+e.b*Math.cos(t-Math.acos(e.r))];});
  ["#e41a1c","#2f7ab3"].forEach((s,i)=>g.append("path").attr("d",line(outline(pcaEllipses[i]))).attr("fill",s).attr("fill-opacity",i?.11:.12).attr("stroke",s).attr("stroke-width",1.8));
  const d="6 5";
  g.append("line").attr("x1",x(0)).attr("x2",x(0)).attr("y1",T).attr("y2",B-8).attr("stroke","#111").attr("stroke-width",1.9).attr("stroke-dasharray",d);
  g.append("line").attr("x1",L-1).attr("x2",R+2).attr("y1",y(0)).attr("y2",y(0)).attr("stroke","#111").attr("stroke-width",1.9).attr("stroke-dasharray",d);
  g.selectAll(".p").data(pcaResponder).join("circle").attr("cx",p=>x(p[0])).attr("cy",p=>y(p[1])).attr("r",3.4).attr("fill","#d7191c");
  const tri=d3.symbol().type(d3.symbolTriangle);
  g.selectAll(".n").data(pcaNon).join("path").attr("d",tri.size(38)()).attr("transform",p=>`translate(${x(p[0])},${y(p[1])})`).attr("fill","#2a72ad");
  g.append("circle").attr("cx",x(pcaCentres[0][0])).attr("cy",y(pcaCentres[0][1])).attr("r",6.5).attr("fill","#d7191c");
  g.append("path").attr("d",tri.size(180)()).attr("transform",`translate(${x(pcaCentres[1][0])},${y(pcaCentres[1][1])})`).attr("fill","#2a72ad");
  const ya=d3.axisLeft(y).tickValues([-5,-2.5,0,2.5,5]).tickSize(4).tickPadding(4).tickFormat(v=>d3.format(".1f")(v).replace("\u2212","-"));
  const xa=d3.axisBottom(x).tickValues([-4,0,4,8]).tickSize(4).tickPadding(5).tickFormat(v=>(""+v));
  const ga=g.append("g").attr("transform",`translate(${L-1},0)`).call(ya), gb=g.append("g").attr("transform",`translate(0,${B-6})`).call(xa);
  [ga,gb].forEach(s=>{s.select(".domain").remove();s.selectAll("text").attr("font-size",15).attr("font-family",SANS).attr("fill","#4d4d4d");s.selectAll("line").attr("stroke","#222").attr("stroke-width",1.6);});
  g.append("text").attr("x",1559.5).attr("y",856).attr("text-anchor","middle").attr("font-size",18).attr("fill","#222").text("Dim1 (48.4%)");
  g.append("text").attr("transform","translate(1339,616) rotate(-90)").attr("text-anchor","middle").attr("font-size",18).attr("fill","#222").text("Dim2 (13.2%)");
  g.append("text").attr("x",1764).attr("y",589).attr("font-size",18).attr("fill","#222").text("Groups");
  [["Responder",601,"#e41a1c","#fbe2e2",617],["Non-responder",631,"#2f7ab3","#e3ecf5",645]].forEach(([k,yy,s,f,ty],i)=>{
    g.append("rect").attr("x",1765).attr("y",yy).attr("width",27.5).attr("height",27.5).attr("fill",f).attr("stroke",s).attr("stroke-width",1.6);
    if(i==0) g.append("circle").attr("cx",1779).attr("cy",yy+14).attr("r",5.5).attr("fill","#d7191c");
    else g.append("path").attr("d",tri.size(110)()).attr("transform",`translate(1779,${yy+13})`).attr("fill","#2a72ad");
    g.append("text").attr("x",1803.5).attr("y",ty+4).attr("font-size",13).attr("font-weight","bold").attr("fill","#222").text(k);
  });
})();

/* swarm */
const swarmPanels=[
 {lab:"hsa-let-7i-5p",fs:15,labX:51,labY:1042,R:let7R,N:let7N,qR:[11.7,5.8,3.75],qN:[3.9,3.35,2.55],p:"0.002",L:79.5,Ri:304,T:940.7,B:1145,yd:[0,25],yr:[1144,945],ticks:[0,5,10,15,20,25],cx:[140.6,243.3],pX:193,pY:947,br:949.3,cl:[140,244],cY:1159},
 {lab:"hsa-miR-181a-5p",fs:14.8,labX:378,labY:1042.7,R:mir181R,N:mir181N,qR:[4.23,2.6,1.69],qN:[2.54,1.86,1.65],p:"0.045",L:410.4,Ri:630,T:940.7,B:1145,yd:[2.5,7.5],yr:[1101.3,986],ticks:[2.5,5,7.5],tf:".1f",cx:[469.4,570.7],pX:520,pY:947,br:949.3,cl:[468,572],cY:1159},
 {lab:"LZIC",fs:16.6,labX:53.5,labY:1276.7,R:lzicR,N:lzicN,qR:[14.4,7.5,4.4],qN:[29.5,14.2,9.4],p:"0.008",L:79.5,Ri:304,T:1176.7,B:1381.3,yd:[0,50],yr:[1376,1186],ticks:[0,10,20,30,40,50],cx:[140.6,243.3],pX:190.5,pY:1185,br:1186,cl:[140,244],cY:1394},
 {lab:"lncFTH1-211",fs:16.3,labX:380,labY:1280,R:fth1R,N:fth1N,qR:[10.6,6.45,5.15],qN:[20.5,14.4,6.65],p:"0.019",L:408.3,Ri:632,T:1176.7,B:1381.3,yd:[0,20],yr:[1379.3,1240.7],ticks:[0,10,20],cx:[469.4,571.1],pX:521,pY:1185,br:1186,cl:[466,580],cY:1396},
 {lab:"hsa-miR-1307-3p",fs:14.8,labX:707,labY:1042.7,R:mir1307R,N:mir1307N,qR:[3.95,1.9,1.6],qN:[2.55,1.6,1.25],p:"0.047",L:735.1,Ri:959.2,T:940.7,B:1145,yd:[3,12],yr:[1101.3,946],ticks:[3,6,9,12],cx:[795.9,898.4],pX:850,pY:947,br:949.3,cl:[796,896],cY:1159},
 {lab:"hsa-miR-1843",fs:14.5,labX:1032,labY:1042.7,R:mir1843R,N:mir1843N,qR:[3.7,1.85,1.55],qN:[1.85,1.45,1.25],p:"0.021",L:1072.2,Ri:1285.7,T:940.7,B:1145,yd:[2.5,12.5],yr:[1111,946.3],ticks:[2.5,5,7.5,10,12.5],tf:".1f",cx:[1130.2,1227.3],pX:1180.6,pY:947,br:949.3,cl:[1128,1224.5],cY:1159},
 {lab:"lncPTMA-209",fs:16.5,labX:707,labY:1277,R:ptmaR,N:ptmaN,qR:[5.55,3.6,2.05],qN:[7.15,5.1,3.85],p:"0.038",L:736.3,Ri:960.4,T:1176.7,B:1381.3,yd:[5,15],yr:[1318,1181.3],ticks:[5,10,15],cx:[797.6,899.6],pX:847.3,pY:1186,br:1186,cl:[795,896],cY:1395},
 {lab:"SRSF6",fs:16.5,labX:1046,labY:1285,R:srsf6R,N:srsf6N,qR:[5,2.85,2.15],qN:[8.7,5.15,4],p:"0.014",L:1072.2,Ri:1296.7,T:1176.7,B:1381.3,yd:[4,16],yr:[1335.3,1186.7],ticks:[4,8,12,16],cx:[1133.5,1235.5],pX:1182.4,pY:1185,br:1186,cl:[1132,1235],cY:1395}];
function dodge(vals,y,step){
  const placed=[];
  [...vals].sort((a,b)=>b-a).forEach(v=>{
    const py=y(v);let k=0,off=0;
    for(;;){
      off=(k%2?1:-1)*Math.ceil(k/2)*step;
      if(!placed.some(p=>Math.hypot(p.off-off,p.py-py)<3.8)) break;
      k++;
    }
    placed.push({off,py});
  });
  return placed;
}
swarmPanels.forEach(o=>{
  const g=svg.append("g");
  const y=d3.scaleLinear().domain(o.yd).range(o.yr);
  const ya=d3.axisLeft(y).tickValues(o.ticks).tickSize(2).tickPadding(2).tickFormat(o.tf?d3.format(o.tf):d3.format("d"));
  const ga=g.append("g").attr("transform",`translate(${o.L},0)`).call(ya);
  ga.select(".domain").remove();
  ga.selectAll("text").attr("font-size",13).attr("font-weight","bold").attr("font-family",SANS).attr("fill","#222");
  ga.selectAll("line").attr("stroke","#666");
  g.append("path").attr("d",`M${o.L},${o.T}V${o.B}H${o.Ri}`).attr("fill","none").attr("stroke","#666").attr("stroke-width",1.5);
  [[o.R,o.qR,"#f0564a",0],[o.N,o.qN,"#00b5bd",1]].forEach(([vals,q,c,i])=>{
    q.forEach(v=>g.append("line").attr("x1",o.cx[i]-15).attr("x2",o.cx[i]+15).attr("y1",y(v)).attr("y2",y(v)).attr("stroke","#c8c8c8").attr("stroke-width",1.6));
    g.append("g").selectAll("circle").data(dodge(vals,y,4.4)).join("circle").attr("cx",d=>o.cx[i]+d.off).attr("cy",d=>d.py).attr("r",1.9).attr("fill",c);
    g.append("line").attr("x1",o.cx[i]).attr("x2",o.cx[i]).attr("y1",o.B).attr("y2",o.B+2).attr("stroke","#666");
    g.append("text").attr("x",o.cl[i]).attr("y",o.cY).attr("text-anchor","middle").attr("font-size",13).attr("font-weight","bold").attr("fill","#333").text(i?"Non-responder":"Responder");
  });
  g.append("path").attr("d",`M${o.cx[0]},${o.br+6}V${o.br}H${o.cx[1]}V${o.br+6}`).attr("fill","none").attr("stroke","#999").attr("stroke-width",1.2);
  const t=g.append("text").attr("x",o.pX).attr("y",o.pY).attr("text-anchor","middle").attr("font-size",13).attr("font-weight","bold").attr("fill","#333");
  t.append("tspan").attr("font-style","italic").text("P");t.append("tspan").text(" = "+o.p);
  g.append("text").attr("transform",`translate(${o.labX},${o.labY}) rotate(-90)`).attr("dy",".35em").attr("text-anchor","middle").attr("font-size",o.fs).attr("font-weight","bold").attr("fill","#222").text(o.lab);
});

/* ROC */
(function(){
  const g=svg.append("g");
  const x=d3.scaleLinear().domain([0,1]).range([1447,1812.5]), y=d3.scaleLinear().domain([0,1]).range([1298.3,991]);
  const L=1432.7,R=1826.9,T=979.3,B=1310.7;
  g.append("line").attr("x1",x(-.03)).attr("y1",y(-.03)).attr("x2",x(1.03)).attr("y2",y(1.03)).attr("stroke","#ccc").attr("stroke-width",1.1).attr("stroke-dasharray","4 4");
  const line=d3.line().x(d=>x(d[0])).y(d=>y(d[1]));
  rocCurves.forEach((c,i)=>g.append("path").attr("d",line(c)).attr("fill","none").attr("stroke",rocColors[i]).attr("stroke-width",2.5));
  g.append("rect").attr("x",L).attr("y",T).attr("width",R-L).attr("height",B-T).attr("fill","none").attr("stroke","#333").attr("stroke-width",1.3);
  const ticks=[0,.2,.4,.6,.8,1], f=d3.format(".1f");
  const gb=g.append("g").attr("transform",`translate(0,${B})`).call(d3.axisBottom(x).tickValues(ticks).tickSize(10).tickPadding(14).tickFormat(f));
  const ga=g.append("g").attr("transform",`translate(${L},0)`).call(d3.axisLeft(y).tickValues(ticks).tickSize(10).tickPadding(0).tickFormat(f));
  [ga,gb].forEach(s=>{s.select(".domain").remove();s.selectAll("text").attr("font-size",19).attr("font-family",SANS).attr("fill","#222");s.selectAll("line").attr("stroke","#333").attr("stroke-width",1.2);});
  ga.selectAll("text").attr("transform","rotate(-90) translate(0,-24)").attr("x",0).attr("dy",0).attr("text-anchor","middle");
  g.append("text").attr("x",1627.7).attr("y",966).attr("text-anchor","middle").attr("font-size",20).attr("fill","#222").text("ROC");
  g.append("text").attr("x",1630).attr("y",1391).attr("text-anchor","middle").attr("font-size",18).attr("fill","#222").text("1\u2212Specificity");
  g.append("text").attr("transform","translate(1365,1145) rotate(-90)").attr("text-anchor","middle").attr("font-size",17).attr("fill","#222").text("Sensitivity");
  g.append("text").attr("x",1739.4).attr("y",1100).attr("text-anchor","middle").attr("font-size",11).attr("fill","#111").text("AUC");
  const ly=[1126,1147.7,1170,1191.7,1213.7,1236,1258,1279.7];
  rocNames.forEach((n,i)=>{
    g.append("line").attr("x1",1658).attr("x2",1682).attr("y1",ly[i]).attr("y2",ly[i]).attr("stroke",rocColors[i]).attr("stroke-width",2.5);
    g.append("text").attr("x",1691.4).attr("y",ly[i]+4.5).attr("font-size",12.5).attr("fill",rocColors[i]).text(n);
  });
})();
</script></body></html>
